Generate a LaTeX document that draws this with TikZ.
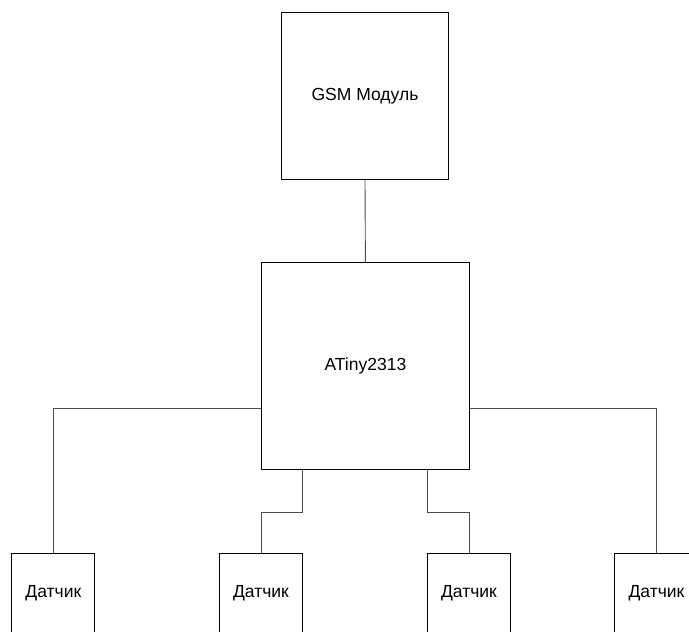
\documentclass[tikz,border=0pt]{standalone}
\usepackage{fontspec}
\setmainfont{Liberation Sans}
\begin{document}
\begin{tikzpicture}[x=1pt,y=-1pt,
  blk/.style={draw=black,line width=1pt,fill=white,inner sep=0pt,font=\fontsize{17.5}{20}\selectfont,text=black},
  wire/.style={draw=black!70,line width=0.9pt}]
\clip (0,0) rectangle (689,632);
\fill[white] (0,0) rectangle (689,632);
\node[blk,minimum width=166.5pt,minimum height=166.5pt] (gsm) at (365,96) {GSM Модуль};
\node[blk,minimum width=207.5pt,minimum height=207.5pt] (mcu) at (365.4,366.2) {ATiny2313};
\node[blk,minimum width=83.3pt,minimum height=80pt] (s1) at (53.3,593.2) {Датчик};
\node[blk,minimum width=83.3pt,minimum height=80pt] (s2) at (261,593.2) {Датчик};
\node[blk,minimum width=83.3pt,minimum height=80pt] (s3) at (469,593.2) {Датчик};
\node[blk,minimum width=83.3pt,minimum height=80pt] (s4) at (656.5,593.2) {Датчик};
\draw[wire] (gsm.south) -- (mcu.north);
\draw[wire] ([yshift=-42pt]mcu.west) -| (s1.north);
\draw[wire] ([yshift=-42pt]mcu.east) -| (s4.north);
\draw[wire] ([xshift=-62.5pt]mcu.south) -- ++(0,41.5) -| (s2.north);
\draw[wire] ([xshift=62pt]mcu.south) -- ++(0,41.5) -| (s3.north);
\end{tikzpicture}
\end{document}
